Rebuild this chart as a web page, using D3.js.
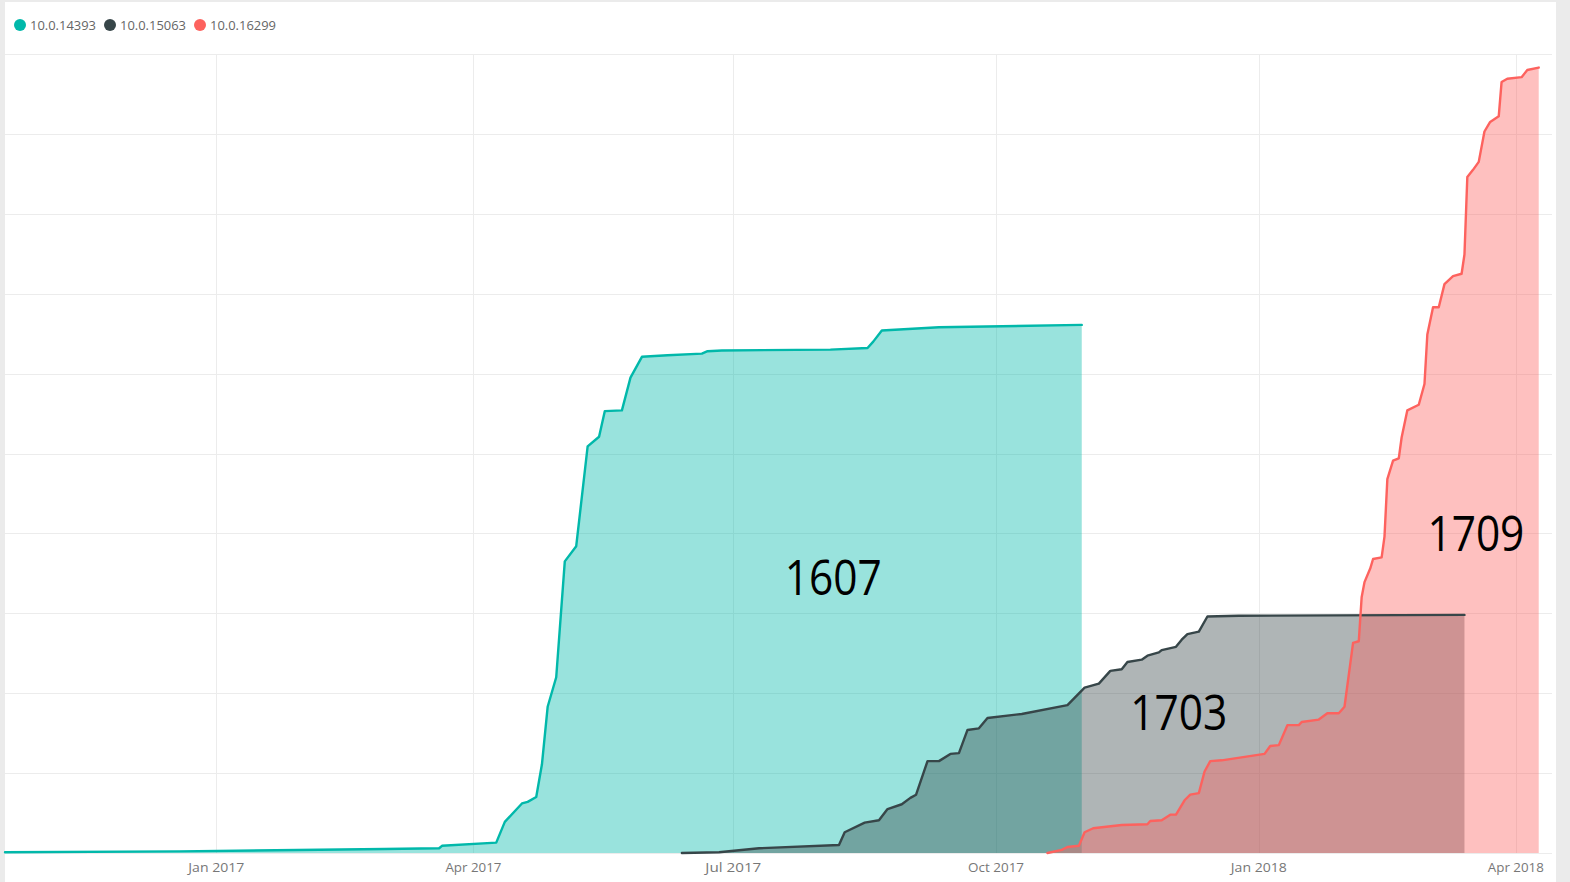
<!DOCTYPE html>
<html>
<head>
<meta charset="utf-8">
<script src="https://cdn.jsdelivr.net/npm/d3@7"></script>
<style>
  body { margin: 0; background: #ebebeb; }
  svg { display: block; }
  .grid line { stroke: #ececec; stroke-width: 1; }
  .axis text { font-family: 'Open Sans', 'Noto Sans', sans-serif; font-size: 13.5px; fill: #777; }
  .legend text { font-family: 'Open Sans', 'Noto Sans', sans-serif; font-size: 12.5px; fill: #666; }
  .release { font-family: 'Open Sans', 'Noto Sans', sans-serif; font-size: 50px; fill: #000; }
</style>
</head>
<body>
<svg id="chart" width="1570" height="882"></svg>
<script>
'use strict';

// series names, in drawing order
var seriesNames = ['10.0.14393', '10.0.15063', '10.0.16299'];
var seriesColors = ['#01b8aa', '#374649', '#fd625e'];

// cumulative share per build (0..100)
var build14393 = [
  ['2016-10-19', 0.1], ['2016-12-19', 0.2], ['2017-03-01', 0.5],
  ['2017-03-20', 0.6], ['2017-03-21', 0.9], ['2017-04-09', 1.3],
  ['2017-04-12', 3.9], ['2017-04-18', 6.2], ['2017-04-20', 6.4],
  ['2017-04-23', 7.0], ['2017-04-25', 11.1], ['2017-04-27', 18.3],
  ['2017-04-30', 22.0], ['2017-05-03', 36.5], ['2017-05-07', 38.4],
  ['2017-05-11', 50.9], ['2017-05-15', 52.1], ['2017-05-17', 55.3],
  ['2017-05-23', 55.4], ['2017-05-26', 59.5], ['2017-05-30', 62.1],
  ['2017-06-08', 62.3], ['2017-06-20', 62.5], ['2017-06-22', 62.8],
  ['2017-06-27', 62.9], ['2017-08-04', 63.0], ['2017-08-17', 63.2],
  ['2017-08-19', 64.0], ['2017-08-22', 65.4], ['2017-09-11', 65.8],
  ['2017-10-31', 66.1]
];

var build15063 = [
  ['2017-06-13', 0.0], ['2017-06-26', 0.1], ['2017-07-10', 0.6],
  ['2017-08-07', 1.0], ['2017-08-09', 2.6], ['2017-08-16', 3.8],
  ['2017-08-21', 4.1], ['2017-08-24', 5.5], ['2017-08-29', 6.1],
  ['2017-09-01', 6.9], ['2017-09-03', 7.3], ['2017-09-07', 11.5],
  ['2017-09-11', 11.5], ['2017-09-15', 12.4], ['2017-09-18', 12.5],
  ['2017-09-21', 15.4], ['2017-09-25', 15.6], ['2017-09-28', 16.9],
  ['2017-10-10', 17.4], ['2017-10-26', 18.5], ['2017-11-01', 20.7],
  ['2017-11-06', 21.2], ['2017-11-10', 22.8], ['2017-11-14', 23.0],
  ['2017-11-16', 23.9], ['2017-11-21', 24.2], ['2017-11-23', 24.7],
  ['2017-11-27', 25.1], ['2017-11-28', 25.4], ['2017-12-03', 25.8],
  ['2017-12-05', 26.7], ['2017-12-07', 27.4], ['2017-12-11', 27.7],
  ['2017-12-14', 29.6], ['2017-12-25', 29.7], ['2018-03-14', 29.8]
];

var build16299 = [
  ['2017-10-19', 0.0], ['2017-10-24', 0.4], ['2017-10-26', 0.75],
  ['2017-10-30', 0.9], ['2017-11-01', 2.6], ['2017-11-04', 3.1],
  ['2017-11-14', 3.5], ['2017-11-23', 3.6], ['2017-11-24', 4.0],
  ['2017-11-28', 4.1], ['2017-12-01', 4.8], ['2017-12-03', 4.8],
  ['2017-12-06', 6.6], ['2017-12-08', 7.3], ['2017-12-11', 7.5],
  ['2017-12-13', 10.2], ['2017-12-15', 11.5], ['2017-12-19', 11.6],
  ['2018-01-03', 12.4], ['2018-01-05', 13.4], ['2018-01-08', 13.5],
  ['2018-01-11', 16.0], ['2018-01-15', 16.0], ['2018-01-16', 16.4],
  ['2018-01-22', 16.7], ['2018-01-25', 17.5], ['2018-01-29', 17.5],
  ['2018-01-31', 18.3], ['2018-02-03', 26.3], ['2018-02-05', 26.5],
  ['2018-02-06', 32.0], ['2018-02-07', 33.9], ['2018-02-09', 35.6],
  ['2018-02-10', 36.8], ['2018-02-13', 37.0], ['2018-02-14', 39.6],
  ['2018-02-15', 46.8], ['2018-02-17', 49.1], ['2018-02-19', 49.4],
  ['2018-02-20', 52.0], ['2018-02-22', 55.4], ['2018-02-26', 56.1],
  ['2018-02-28', 58.7], ['2018-03-01', 64.9], ['2018-03-03', 68.3],
  ['2018-03-05', 68.3], ['2018-03-07', 71.2], ['2018-03-10', 72.2],
  ['2018-03-13', 72.5], ['2018-03-14', 74.9], ['2018-03-15', 84.6],
  ['2018-03-17', 85.5], ['2018-03-19', 86.5], ['2018-03-21', 90.3],
  ['2018-03-23', 91.5], ['2018-03-26', 92.2], ['2018-03-27', 96.5],
  ['2018-03-29', 96.9], ['2018-04-03', 97.1], ['2018-04-05', 98.0],
  ['2018-04-09', 98.3]
];

// x axis tick labels
var tickDates = ['2017-01-01', '2017-04-01', '2017-07-01', '2017-10-01', '2018-01-01', '2018-04-01'];
var yTicks = [0, 10, 20, 30, 40, 50, 60, 70, 80, 90, 100];

// release names written on the areas
var releaseLabels = ['1607', '1703', '1709'];
var releaseAnchors = [['2017-08-05', 32.3], ['2017-12-04', 15.4], ['2018-03-18', 37.8]];

var parse = d3.utcParse('%Y-%m-%d'),
    svg = d3.select('#chart'),
    allSeries,
    area,
    line,
    plot,
    x,
    y;

allSeries = [build14393, build15063, build16299].map(function (rows) {
  return rows.map(function (r) {
    return {date: parse(r[0]), value: r[1]};
  });
});

x = d3.scaleUtc()
    .domain([parse('2016-10-19'), parse('2018-04-14')])
    .range([5, 1553]);

y = d3.scaleLinear()
    .domain([0, 100])
    .range([853, 54]);

// white panel
svg.append('rect')
    .attr('x', 5).attr('y', 2)
    .attr('width', 1551).attr('height', 880)
    .attr('fill', '#fff');

// gridlines
plot = svg.append('g').attr('class', 'grid');
plot.selectAll('line.h')
    .data(yTicks)
    .enter().append('line')
    .attr('class', 'h')
    .attr('x1', 5).attr('x2', 1552)
    .attr('y1', function (d) { return Math.round(y(d)) + 0.5; })
    .attr('y2', function (d) { return Math.round(y(d)) + 0.5; });
plot.selectAll('line.v')
    .data(tickDates)
    .enter().append('line')
    .attr('class', 'v')
    .attr('x1', function (d) { return Math.round(x(parse(d))) + 0.5; })
    .attr('x2', function (d) { return Math.round(x(parse(d))) + 0.5; })
    .attr('y1', y(100)).attr('y2', y(0));

area = d3.area()
    .x(function (d) { return x(d.date); })
    .y0(y(0))
    .y1(function (d) { return y(d.value); });

line = d3.line()
    .x(function (d) { return x(d.date); })
    .y(function (d) { return y(d.value); });

// filled areas, each over the last
allSeries.forEach(function (data, i) {
  svg.append('path')
      .datum(data)
      .attr('d', area)
      .attr('fill', seriesColors[i])
      .attr('fill-opacity', 0.4);
});

// outlines on top
allSeries.forEach(function (data, i) {
  svg.append('path')
      .datum(data)
      .attr('d', line)
      .attr('fill', 'none')
      .attr('stroke', seriesColors[i])
      .attr('stroke-width', 2.4)
      .attr('stroke-linejoin', 'round')
      .attr('stroke-linecap', 'round');
});

// x axis labels
svg.append('g')
    .attr('class', 'axis')
    .selectAll('text')
    .data(tickDates)
    .enter().append('text')
    .attr('x', function (d) { return x(parse(d)); })
    .attr('y', 872)
    .attr('text-anchor', 'middle')
    .attr('textLength', 56)
    .attr('lengthAdjust', 'spacingAndGlyphs')
    .text(function (d) { return d3.utcFormat('%b %Y')(parse(d)); });

// release labels
svg.selectAll('text.release')
    .data(releaseLabels)
    .enter().append('text')
    .attr('class', 'release')
    .attr('x', function (d, i) { return x(parse(releaseAnchors[i][0])); })
    .attr('y', function (d, i) { return y(releaseAnchors[i][1]); })
    .attr('text-anchor', 'middle')
    .attr('textLength', 97)
    .attr('lengthAdjust', 'spacingAndGlyphs')
    .text(function (d) { return d; });

// legend
var legend = svg.append('g').attr('class', 'legend'),
    legendX = [20, 110, 200];

legend.selectAll('circle')
    .data(seriesNames)
    .enter().append('circle')
    .attr('cx', function (d, i) { return legendX[i]; })
    .attr('cy', 25)
    .attr('r', 6)
    .attr('fill', function (d, i) { return seriesColors[i]; });

legend.selectAll('text')
    .data(seriesNames)
    .enter().append('text')
    .attr('x', function (d, i) { return legendX[i] + 10; })
    .attr('y', 29.5)
    .attr('textLength', 66)
    .attr('lengthAdjust', 'spacingAndGlyphs')
    .text(function (d) { return d; });
</script>
</body>
</html>
